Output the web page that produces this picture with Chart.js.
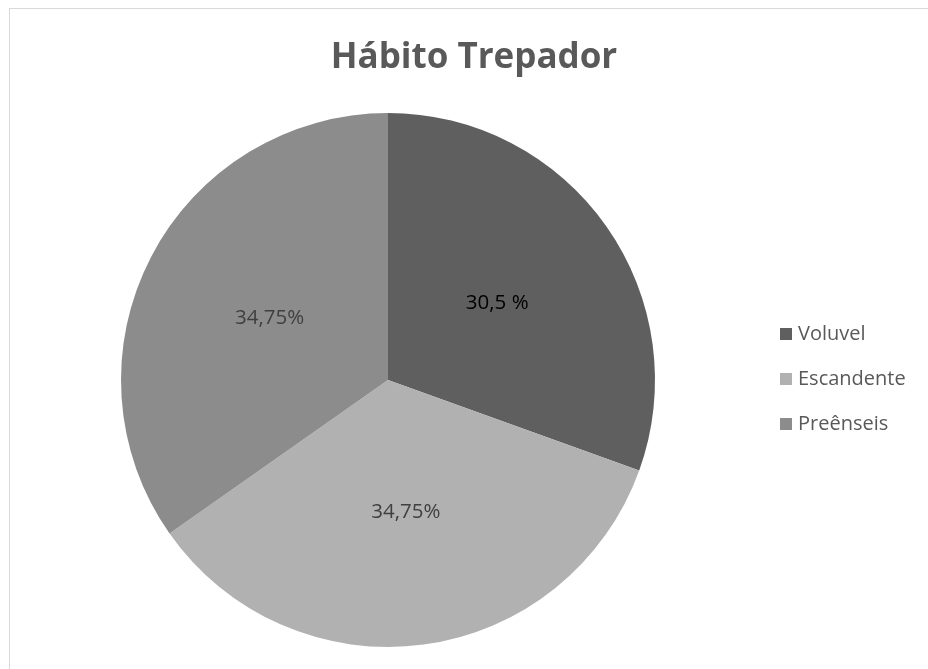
<!DOCTYPE html>
<html>
<head>
<meta charset="utf-8">
<script src="https://cdn.jsdelivr.net/npm/chart.js@4/dist/chart.umd.min.js"></script>
<style>
  html, body { margin: 0; padding: 0; background: #fff; }
  #wrap { position: relative; width: 928px; height: 669px; overflow: hidden; }
  #frame { position: absolute; left: 9px; top: 8px; width: 940px; height: 700px; border: 1px solid #d9d9d9; box-sizing: border-box; }
  #title { position: absolute; left: 0; width: 948px; top: 30px; text-align: center; font-family: "Open Sans", sans-serif; font-weight: bold; font-size: 35px; color: #595959; line-height: 50px; }
  canvas { position: absolute; left: 0; top: 0; }
  #legend { position: absolute; left: 780px; top: 320px; font-family: "Open Sans", sans-serif; font-size: 20px; color: #595959; }
  .item { height: 45px; display: flex; align-items: flex-start; line-height: 26px; }
  .sw { width: 12px; height: 12px; margin-top: 8px; margin-right: 6px; }
</style>
</head>
<body>
<div id="wrap">
  <div id="frame"></div>
  <canvas id="c" width="928" height="669"></canvas>
  <div id="title"></div>
  <div id="legend"></div>
</div>
<script>
const chartTitle = "Hábito Trepador";
const categories = ["Voluvel", "Escandente", "Preênseis"];
const values = [30.5, 34.75, 34.75];
const valueLabels = ["30,5 %", "34,75%", "34,75%"];
const sliceColors = ["#5f5f5f", "#b1b1b1", "#8c8c8c"];
const labelColors = ["#000000", "#404040", "#404040"];

document.getElementById("title").textContent = chartTitle;
const legend = document.getElementById("legend");
categories.forEach((c, i) => {
  const d = document.createElement("div");
  d.className = "item";
  const s = document.createElement("div");
  s.className = "sw";
  s.style.background = sliceColors[i];
  const t = document.createElement("span");
  t.textContent = c;
  d.appendChild(s); d.appendChild(t);
  legend.appendChild(d);
});

const labelPlugin = {
  id: "sliceLabels",
  afterDatasetsDraw(chart) {
    const ctx = chart.ctx;
    const meta = chart.getDatasetMeta(0);
    ctx.save();
    ctx.font = '20.5px "Open Sans", sans-serif';
    ctx.textAlign = "center";
    ctx.textBaseline = "middle";
    meta.data.forEach((arc, i) => {
      const p = arc.getProps(["x", "y", "startAngle", "endAngle", "outerRadius"], true);
      const mid = (p.startAngle + p.endAngle) / 2;
      const r = p.outerRadius * 0.5;
      ctx.fillStyle = labelColors[i];
      ctx.fillText(valueLabels[i], p.x + Math.cos(mid) * r, p.y + Math.sin(mid) * r);
    });
    ctx.restore();
  }
};

new Chart(document.getElementById("c"), {
  type: "pie",
  data: {
    labels: categories,
    datasets: [{ data: values, backgroundColor: sliceColors, borderWidth: 0 }]
  },
  options: {
    responsive: false,
    animation: false,
    layout: { padding: { left: 121, right: 273, top: 113, bottom: 22 } },
    plugins: { legend: { display: false }, tooltip: { enabled: false }, title: { display: false } }
  },
  plugins: [labelPlugin]
});
</script>
</body>
</html>
